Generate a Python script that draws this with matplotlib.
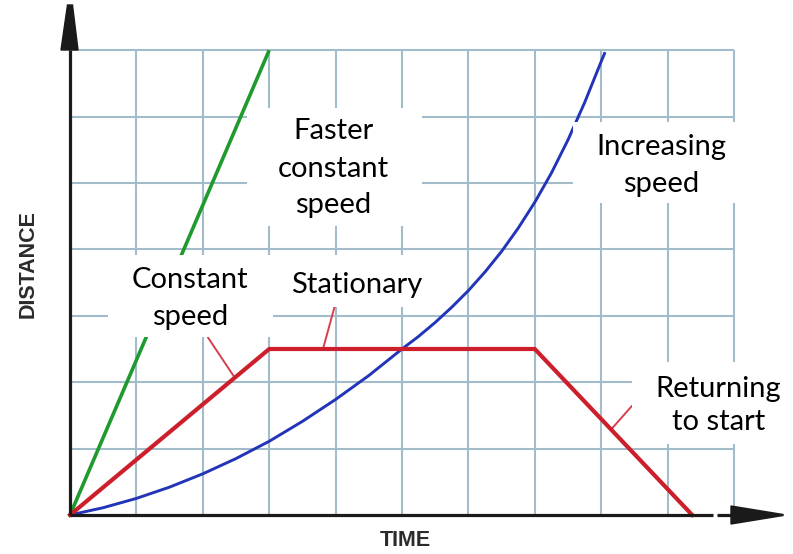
import matplotlib
matplotlib.use("Agg")
import matplotlib.pyplot as plt
from matplotlib.patches import Rectangle, Polygon

# ---------------- data (time units / distance units, one grid square = 1) ----
green_t = [0, 3]
green_d = [0, 7]

red_t = [0, 3, 7, 9.37]
red_d = [0, 2.5, 2.5, 0]

blue_t = [0, 0.5, 1, 1.5, 2, 2.5, 3, 3.5, 4, 4.5, 5,
          5.25, 5.5, 5.75, 6, 6.25, 6.5, 6.75, 7, 7.25, 7.5, 7.75, 8, 8.05]
blue_d = [0, 0.11, 0.25, 0.42, 0.62, 0.85, 1.11, 1.41, 1.74, 2.10, 2.50,
          2.69, 2.90, 3.13, 3.38, 3.66, 3.97, 4.32, 4.71, 5.15, 5.65, 6.21,
          6.83, 6.95]

grid_x = [1, 2, 3, 4, 5, 6, 7, 8, 9, 10]
grid_y = [1, 2, 3, 4, 5, 6, 7]

labels = ["Faster\nconstant\nspeed", "Constant\nspeed", "Stationary",
          "Increasing\nspeed", "Returning\nto start"]

# ---------------- figure geometry (pixel -> data helpers) --------------------
W, H = 793, 554
OX, OY, U = 70, 515, 66.4   # origin pixel and pixels per unit


def ux(px):
    return (px - OX) / U


def uy(py):
    return (OY - py) / U


fig = plt.figure(figsize=(W / 100, H / 100), dpi=100)
ax = fig.add_axes([0, 0, 1, 1])
ax.set_xlim(ux(0), ux(W))
ax.set_ylim(uy(H), uy(0))
ax.axis("off")

# grid
grid_col = "#a3bccb"
ax.vlines(grid_x, 0, max(grid_y), color=grid_col, lw=1.5, zorder=1)
ax.hlines(grid_y, 0, max(grid_x), color=grid_col, lw=1.5, zorder=1)

# curves
ax.plot(green_t, green_d, color="#1f9a2e", lw=2.6, zorder=3,
        solid_capstyle="butt")
ax.plot(blue_t, blue_d, color="#2234b8", lw=2.1, zorder=3,
        solid_joinstyle="round")
ax.plot(red_t, red_d, color="#cc1f2b", lw=3.0, zorder=4,
        solid_joinstyle="miter")

# leader lines
lead_col = "#d5404c"
leaders = [((2.08, 2.67), (2.48, 2.07)),
           ((3.98, 3.12), (3.81, 2.5)),
           ((8.46, 1.64), (8.16, 1.3))]
for (x0, y0), (x1, y1) in leaders:
    ax.plot([x0, x1], [y0, y1], color=lead_col, lw=1.4, zorder=3)

# axes with arrows
axis_col = "#1a1a1a"
ax.plot([0, 0], [0, uy(50)], color=axis_col, lw=2.3, zorder=5,
        solid_capstyle="butt")
ax.add_patch(Polygon([(ux(61), uy(50)), (ux(78), uy(50)),
                      (ux(72.5), uy(5)), (ux(67.5), uy(5))],
                     closed=True, color=axis_col, zorder=5))
ax.plot([0, ux(713)], [0, 0], color=axis_col, lw=2.3, zorder=5,
        solid_capstyle="butt")
ax.plot([ux(717), ux(735)], [0, 0], color=axis_col, lw=2.3, zorder=5,
        solid_capstyle="butt")
ax.add_patch(Polygon([(ux(731), uy(506)), (ux(731), uy(524)),
                      (ux(783), uy(515.5)), (ux(783), uy(514.5))],
                     closed=True, color=axis_col, zorder=5))

# axis titles
ax.text(ux(28), uy(264), "DISTANCE", rotation=90, ha="center", va="center",
        fontsize=15.5, fontweight="bold", color="#2b2b2b",
        family="Liberation Sans", zorder=6)
ax.text(ux(405), uy(540), "TIME", ha="center", va="center",
        fontsize=15.5, fontweight="bold", color="#2b2b2b",
        family="Liberation Sans", zorder=6)

# white label boxes (pixel extents) and text baselines
boxes = [(247, 108, 422, 226), (108, 255, 273, 337), (265, 255, 445, 307),
         (573, 122, 748, 203), (632, 362, 793, 444)]
centers_x = [333, 190, 357, 661, 718.5]
baselines = [[139, 176.5, 213], [288, 325], [293], [155, 192], [397, 430.5]]

for (x0, y0, x1, y1) in boxes:
    ax.add_patch(Rectangle((ux(x0), uy(y1)), (x1 - x0) / U, (y1 - y0) / U,
                           facecolor="white", edgecolor="none", zorder=7))

for lab, cx, bls in zip(labels, centers_x, baselines):
    for line, bl in zip(lab.split("\n"), bls):
        ax.text(ux(cx), uy(bl), line, ha="center", va="baseline",
                fontsize=21, family="Lato", color="black", zorder=8)

fig.savefig("out.png", dpi=100, facecolor="white")
